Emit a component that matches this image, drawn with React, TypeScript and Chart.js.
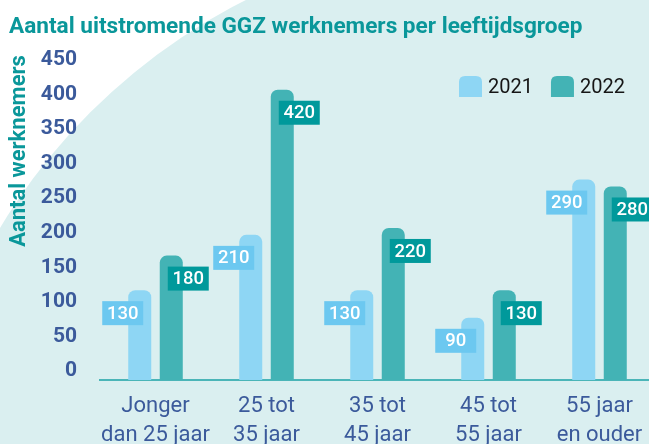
import React, { useEffect, useRef } from "react";
import { Chart, registerables } from "chart.js";

Chart.register(...registerables);

const TITLE = "Aantal uitstromende GGZ werknemers per leeftijdsgroep";
const Y_TITLE = "Aantal werknemers";
const CATEGORIES = [
  ["Jonger", "dan 25 jaar"],
  ["25 tot", "35 jaar"],
  ["35 tot", "45 jaar"],
  ["45 tot", "55 jaar"],
  ["55 jaar", "en ouder"],
];
const SERIES_NAMES = ["2021", "2022"];
const VALUES_2021 = [130, 210, 130, 90, 290];
const VALUES_2022 = [180, 420, 220, 130, 280];
const Y_MIN = 0;
const Y_MAX = 450;
const Y_STEP = 50;

const BAR_COLORS = ["#8ed6f4", "#43b3b5"];
const LABEL_COLORS = ["#6cc8f0", "#00999b"];
const TEAL = "#0a979a";
const TICK_COLOR = "#3b5a9b";
const MINT = "#daeff0";

const backgroundPlugin = {
  id: "bg",
  beforeDraw(chart: any) {
    const ctx = chart.ctx;
    ctx.save();
    ctx.fillStyle = "#ffffff";
    ctx.fillRect(0, 0, chart.width, chart.height);
    ctx.beginPath();
    ctx.arc(516, 538, 602, 0, Math.PI * 2);
    ctx.fillStyle = MINT;
    ctx.fill();
    ctx.restore();
  },
};

const textPlugin = {
  id: "texts",
  afterDraw(chart: any) {
    const ctx = chart.ctx;
    ctx.save();
    // title
    ctx.font = "bold 22.6px Roboto";
    ctx.fillStyle = TEAL;
    ctx.textAlign = "left";
    ctx.textBaseline = "alphabetic";
    ctx.fillText(TITLE, 9, 33);
    // y title
    ctx.save();
    ctx.translate(19, 151);
    ctx.rotate(-Math.PI / 2);
    ctx.textAlign = "center";
    ctx.textBaseline = "middle";
    ctx.font = "bold 22px Roboto";
    ctx.fillText(Y_TITLE, 0, 0);
    ctx.restore();
    // legend
    let x = 459;
    const top = 76;
    chart.data.datasets.forEach((ds: any, i: number) => {
      ctx.fillStyle = BAR_COLORS[i];
      ctx.beginPath();
      ctx.moveTo(x, top + 21);
      ctx.lineTo(x, top + 6);
      ctx.quadraticCurveTo(x, top, x + 6, top);
      ctx.lineTo(x + 17, top);
      ctx.quadraticCurveTo(x + 23, top, x + 23, top + 6);
      ctx.lineTo(x + 23, top + 21);
      ctx.closePath();
      ctx.fill();
      ctx.font = "20px Roboto";
      ctx.fillStyle = "#161616";
      ctx.textAlign = "left";
      ctx.textBaseline = "middle";
      ctx.fillText(ds.label, x + 29, top + 12);
      x += 29 + ctx.measureText(ds.label).width + 18;
    });
    ctx.restore();
  },
  afterDatasetsDraw(chart: any) {
    const ctx = chart.ctx;
    ctx.save();
    chart.data.datasets.forEach((ds: any, di: number) => {
      const meta = chart.getDatasetMeta(di);
      meta.data.forEach((el: any, i: number) => {
        const { x, y } = el.getProps(["x", "y"], true);
        const cx = x + (di === 0 ? -17 : 17);
        const cy = y + 23;
        ctx.fillStyle = LABEL_COLORS[di];
        ctx.fillRect(cx - 20.5, cy - 12, 41, 24);
        ctx.fillStyle = "#ffffff";
        ctx.font = "500 18.5px Roboto";
        ctx.textAlign = "center";
        ctx.textBaseline = "middle";
        ctx.fillText(String(ds.data[i]), cx, cy + 1);
      });
    });
    ctx.restore();
  },
};

export default function App() {
  const ref = useRef<HTMLCanvasElement>(null);
  useEffect(() => {
    const radius = { topLeft: 7, topRight: 7, bottomLeft: 0, bottomRight: 0 };
    const chart = new Chart(ref.current as HTMLCanvasElement, {
      type: "bar",
      data: {
        labels: CATEGORIES,
        datasets: [
          {
            label: SERIES_NAMES[0],
            data: VALUES_2021,
            backgroundColor: BAR_COLORS[0],
            borderRadius: radius,
            borderSkipped: "bottom",
            categoryPercentage: 0.568,
            barPercentage: 0.73,
          },
          {
            label: SERIES_NAMES[1],
            data: VALUES_2022,
            backgroundColor: BAR_COLORS[1],
            borderRadius: radius,
            borderSkipped: "bottom",
            categoryPercentage: 0.568,
            barPercentage: 0.73,
          },
        ],
      },
      options: {
        responsive: false,
        devicePixelRatio: 1,
        animation: false,
        layout: { padding: { top: 69, left: 9, right: 25, bottom: 0 } },
        plugins: {
          legend: { display: false },
          title: { display: false },
          tooltip: { enabled: false },
        },
        scales: {
          x: {
            grid: { display: false, drawTicks: false },
            border: { display: true, color: "#4ab5b8", width: 2 },
            ticks: {
              color: TICK_COLOR,
              padding: 12,
              font: { family: "Roboto", size: 22, lineHeight: 1.32 },
              maxRotation: 0,
              autoSkip: false,
            },
            afterFit(scale: any) {
              scale.height = 64;
            },
          },
          y: {
            min: Y_MIN,
            max: Y_MAX,
            grid: { display: false, drawTicks: false },
            border: { display: false },
            ticks: {
              stepSize: Y_STEP,
              color: TICK_COLOR,
              padding: 23,
              labelOffset: -9,
              font: { family: "Roboto", size: 21, weight: "bold" },
            },
            afterFit(scale: any) {
              scale.width = 91;
            },
          },
        },
      },
      plugins: [backgroundPlugin, textPlugin],
    } as any);
    return () => chart.destroy();
  }, []);
  return (
    <div
      style={{
        position: "fixed",
        left: 0,
        top: 0,
        width: 649,
        height: 444,
        overflow: "hidden",
        background: "#fff",
      }}
    >
      <canvas
        ref={ref}
        width={680}
        height={444}
        style={{ display: "block", width: 680, height: 444 }}
      />
    </div>
  );
}
